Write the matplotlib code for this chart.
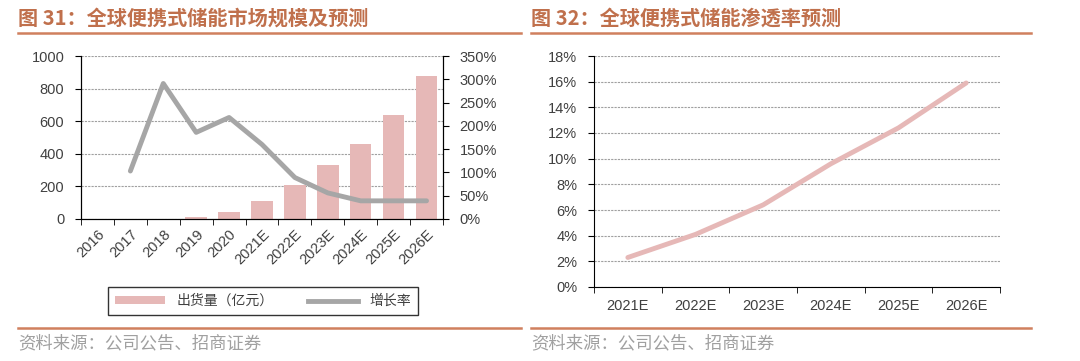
import numpy as np
import matplotlib
matplotlib.use('Agg')
import matplotlib.pyplot as plt
from matplotlib.lines import Line2D
from matplotlib.patches import Patch

plt.rcParams['font.family'] = ['Liberation Sans', 'Noto Sans CJK SC', 'DejaVu Sans']
plt.rcParams['axes.unicode_minus'] = False

# 图31 数据
years = ['2016', '2017', '2018', '2019', '2020', '2021E', '2022E',
         '2023E', '2024E', '2025E', '2026E']
shipment = [0, 0, 2, 12, 42, 110, 208, 330, 458, 636, 880]        # 亿元
growth = [np.nan, 103, 291, 186, 218, 160, 89, 56, 39, 39, 39]     # %

# 图32 数据
years_pen = ['2021E', '2022E', '2023E', '2024E', '2025E', '2026E']
penetration = [2.3, 4.1, 6.4, 9.6, 12.4, 15.9]                     # %

TITLE_C = '#C0704C'
RULE_C = '#D0805E'
BAR_C = '#E6B8B7'
LINE_C = '#A6A6A6'
TXT_C = '#404040'
SRC_C = '#A0A0A0'
CJK = ['Noto Sans CJK SC', 'DejaVu Sans']

fig = plt.figure(figsize=(10.8, 3.61), dpi=100)

# 标题、分隔线、来源
def frame(x0, x1, title):
    fig.text(x0 / 1080, 1 - 18 / 361, title, family=CJK, fontweight='bold',
             fontsize=14.5, color=TITLE_C, va='center', ha='left')
    fig.add_artist(Line2D([x0 / 1080, x1 / 1080], [1 - 33 / 361] * 2,
                          color=RULE_C, lw=1.8))
    fig.add_artist(Line2D([x0 / 1080, x1 / 1080], [1 - 328 / 361] * 2,
                          color=RULE_C, lw=1.8))
    fig.text(x0 / 1080, 1 - 343 / 361, '资料来源：公司公告、招商证券', family=CJK,
             fontsize=12.5, color=SRC_C, va='center', ha='left')

frame(18, 521, '图 31：全球便携式储能市场规模及预测')
frame(531, 1031, '图 32：全球便携式储能渗透率预测')

def style_grid(ax):
    ax.set_axisbelow(True)
    ax.yaxis.grid(True, color='#A0A0A0', lw=0.8, ls=(0, (2, 1)))
    ax.tick_params(axis='both', colors='black', labelcolor=TXT_C, labelsize=10.5)

# ---- 左图 ----
ax1 = fig.add_axes([81 / 1080, 1 - 219 / 361, (443 - 81) / 1080, (219 - 56) / 361])
x = np.arange(len(years))
ax1.bar(x, shipment, width=0.65, color=BAR_C, label='出货量（亿元）', zorder=2)
ax1.set_xlim(-0.5, len(years) - 0.5)
ax1.set_ylim(0, 1000)
ax1.set_yticks(np.arange(0, 1001, 200))
ax1.set_xticks(x)
ax1.set_xticklabels(years, rotation=45, ha='right', rotation_mode='anchor')
ax1.set_xticks(np.arange(-0.5, len(years)), minor=True)
ax1.tick_params(axis='x', which='major', length=0, pad=6)
ax1.tick_params(axis='x', which='minor', length=4, direction='out')
style_grid(ax1)
ax1.tick_params(axis='y', length=4, direction='out', pad=8)
ax1.spines['top'].set_visible(False)

ax1r = ax1.twinx()
ax1r.plot(x, growth, color=LINE_C, lw=3.5, solid_capstyle='round',
          solid_joinstyle='round', label='增长率', zorder=3)
ax1r.set_ylim(0, 350)
ax1r.set_yticks(np.arange(0, 351, 50))
ax1r.set_yticklabels([f'{v}%' for v in range(0, 351, 50)])
ax1r.tick_params(axis='y', length=4, direction='out', colors='black',
                 labelcolor=TXT_C, labelsize=10.5, pad=8)
ax1r.spines['top'].set_visible(False)

handles = [Patch(facecolor=BAR_C, edgecolor='none', label='出货量（亿元）'),
           Line2D([], [], color=LINE_C, lw=3.5, label='增长率')]
leg = fig.legend(handles=handles, loc='center', ncol=2,
                 bbox_to_anchor=(263 / 1080, 1 - 301 / 361),
                 frameon=True, fancybox=False, prop={'family': CJK, 'size': 10},
                 handlelength=3.6, handleheight=0.5, columnspacing=2.5,
                 borderpad=0.5, labelcolor=TXT_C)
leg.get_frame().set_edgecolor('black')
leg.get_frame().set_linewidth(1.0)

# ---- 右图 ----
ax2 = fig.add_axes([594 / 1080, 1 - 287 / 361, (1000 - 594) / 1080, (287 - 56) / 361])
x2 = np.arange(len(years_pen))
ax2.plot(x2, penetration, color=BAR_C, lw=3.5, solid_capstyle='round',
         solid_joinstyle='round', zorder=3)
ax2.set_xlim(-0.5, len(years_pen) - 0.5)
ax2.set_ylim(0, 18)
ax2.set_yticks(np.arange(0, 19, 2))
ax2.set_yticklabels([f'{v}%' for v in range(0, 19, 2)])
ax2.set_xticks(x2)
ax2.set_xticklabels(years_pen)
ax2.set_xticks(np.arange(-0.5, len(years_pen)), minor=True)
ax2.tick_params(axis='x', which='major', length=0, pad=9)
ax2.tick_params(axis='x', which='minor', length=4, direction='out')
style_grid(ax2)
ax2.tick_params(axis='y', length=4, direction='out', pad=8)
ax2.spines['top'].set_visible(False)
ax2.spines['right'].set_visible(False)

fig.savefig('out.png', dpi=100)
